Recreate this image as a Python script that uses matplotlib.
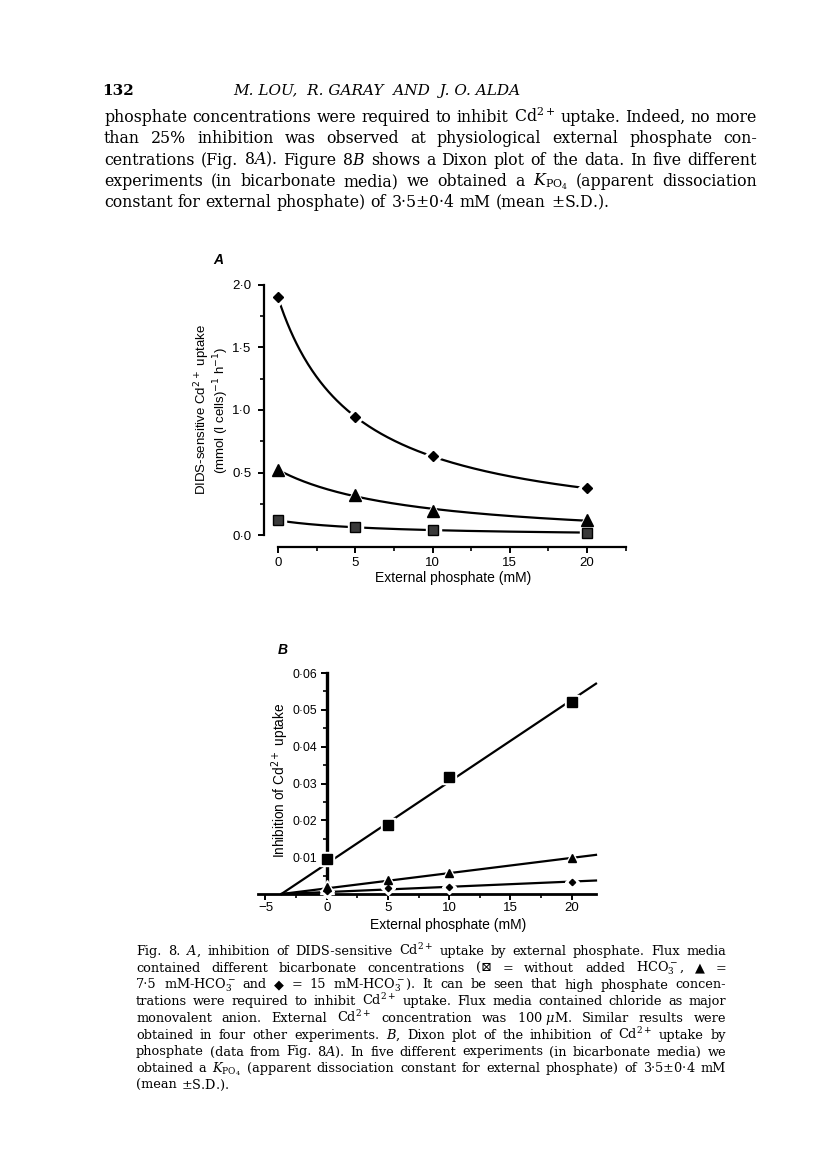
import numpy as np
import matplotlib.pyplot as plt
from matplotlib.ticker import MultipleLocator

W, H = 816, 1163

# external phosphate (mM)
conc = [0, 5, 10, 20]

# panel A: DIDS-sensitive Cd2+ uptake, mmol (l cells)^-1 h^-1
a_no_hco3 = [0.117, 0.061, 0.040, 0.019]
a_hco3_7 = [0.52, 0.32, 0.195, 0.12]
a_hco3_15 = [1.90, 0.944, 0.632, 0.373]

# panel B: Dixon plot
b_no_hco3 = [0.0095, 0.0186, 0.0318, 0.0520]
b_hco3_7 = [0.0020, 0.0038, 0.0056, 0.0097]
b_hco3_15 = [0.0009, 0.0015, 0.0020, 0.0032]
b_cross = -3.7   # where the Dixon lines meet the x axis

a_xticks = [0, 5, 10, 15, 20]
a_yticks = [0.0, 0.5, 1.0, 1.5, 2.0]
a_ylabels = ['0\u00b70', '0\u00b75', '1\u00b70', '1\u00b75', '2\u00b70']
b_xticks = [-5, 0, 5, 10, 15, 20]
b_xlabels = ['\u22125', '0', '5', '10', '15', '20']
b_yticks = [0.01, 0.02, 0.03, 0.04, 0.05, 0.06]
b_ylabels = ['0\u00b701', '0\u00b702', '0\u00b703', '0\u00b704', '0\u00b705', '0\u00b706']

header_num = '132'
header_authors = 'M. LOU,  R. GARAY  AND  J. O. ALDA'
para = [
    'phosphate concentrations were required to inhibit Cd$^{2+}$ uptake. Indeed, no more',
    'than 25% inhibition was observed at physiological external phosphate con-',
    'centrations (Fig. 8$A$). Figure 8$B$ shows a Dixon plot of the data. In five different',
    'experiments (in bicarbonate media) we obtained a $K_{\\mathrm{PO_4}}$ (apparent dissociation',
    'constant for external phosphate) of 3\u00b75$\\pm$0\u00b74 mM (mean $\\pm$S.D.).',
]
caption = [
    'Fig. 8. $A$, inhibition of DIDS-sensitive Cd$^{2+}$ uptake by external phosphate. Flux media',
    'contained different bicarbonate concentrations (\u22a0 = without added HCO$_3^-$, \u25b2 =',
    '7\u00b75 mM-HCO$_3^-$ and \u25c6 = 15 mM-HCO$_3^-$). It can be seen that high phosphate concen-',
    'trations were required to inhibit Cd$^{2+}$ uptake. Flux media contained chloride as major',
    'monovalent anion. External Cd$^{2+}$ concentration was 100\u00a0$\\mu$M. Similar results were',
    'obtained in four other experiments. $B$, Dixon plot of the inhibition of Cd$^{2+}$ uptake by',
    'phosphate (data from Fig. 8$A$). In five different experiments (in bicarbonate media) we',
    'obtained a $K_{\\mathrm{PO_4}}$ (apparent dissociation constant for external phosphate) of 3\u00b75$\\pm$0\u00b74 mM',
    '(mean $\\pm$S.D.).',
]

plt.rcParams['font.family'] = ['Liberation Sans', 'DejaVu Sans']
fig = plt.figure(figsize=(W / 100, H / 100), dpi=100)
renderer = fig.canvas.get_renderer()


def fx(px):
    return px / W


def fy(py):
    return 1 - py / H


def hyperbola_fit(x, y):
    # v = c + V / (1 + x/K), best K on a grid, c and V by least squares
    x = np.asarray(x, float)
    y = np.asarray(y, float)
    best = None
    for K in np.linspace(0.5, 60, 1200):
        A = np.column_stack([np.ones_like(x), 1 / (1 + x / K)])
        coef, *_ = np.linalg.lstsq(A, y, rcond=None)
        err = np.sum((A @ coef - y) ** 2)
        if best is None or err < best[0]:
            best = (err, K, coef)
    _, K, (c, V) = best
    return lambda t: c + V / (1 + t / K)


def draw_marks(ax, x, y, marker, ms, face='black'):
    ax.plot(x, y, ls='none', marker=marker, ms=ms + 4, color='white', zorder=3, clip_on=False)
    ax.plot(x, y, ls='none', marker=marker, ms=ms, mfc=face, mec='black', mew=1,
            zorder=4, clip_on=False)


# ---------- panel A ----------
x0A, x20A = 278, 587
pxA = (x20A - x0A) / 20
y0A, y2A = 535, 285
pyA = (y0A - y2A) / 2.0
leftA, rightA, botA = 264, 626, 547
axA = fig.add_axes([fx(leftA), fy(botA), (rightA - leftA) / W, (botA - y2A) / H])
axA.set_xlim((leftA - x0A) / pxA, (rightA - x0A) / pxA)
axA.set_ylim((y0A - botA) / pyA, 2.0)
for s in ['top', 'right']:
    axA.spines[s].set_visible(False)
axA.spines['left'].set_bounds(0, 2.0)
axA.spines['bottom'].set_bounds(0, 22.5)
for s in ['left', 'bottom']:
    axA.spines[s].set_linewidth(1.6)
axA.set_xticks(a_xticks)
axA.set_yticks(a_yticks, a_ylabels)
axA.xaxis.set_minor_locator(MultipleLocator(2.5))
axA.yaxis.set_minor_locator(MultipleLocator(0.25))
axA.tick_params(which='major', direction='out', length=4, width=1.4, labelsize=9.5, pad=3)
axA.tick_params(which='minor', direction='out', length=3, width=1.2)
axA.tick_params(axis='y', pad=5)

xs = np.linspace(0, 20, 300)
for y, m, ms, face in [(a_hco3_15, 'D', 5.2, 'black'), (a_hco3_7, '^', 8, 'black'),
                       (a_no_hco3, 's', 6.8, '#3a3a3a')]:
    f = hyperbola_fit(conc, y)
    axA.plot(xs, f(xs), color='black', lw=1.6, zorder=2)
    draw_marks(axA, conc, y, m, ms, face)

fig.text(fx(218), fy(260), 'A', fontsize=10, style='italic', weight='bold', ha='center', va='center')
fig.text(fx(202), fy(410), 'DIDS-sensitive Cd$^{2+}$ uptake', fontsize=9.5, rotation=90,
         ha='center', va='center', math_fontfamily='dejavusans')
fig.text(fx(221), fy(410), '(mmol (l cells)$^{-1}$ h$^{-1}$)', fontsize=9.5, rotation=90,
         ha='center', va='center', math_fontfamily='dejavusans')
fig.text(fx(453), fy(578), 'External phosphate (mM)', fontsize=10, ha='center', va='center')

# ---------- panel B ----------
x0B, x20B = 326.7, 571.7
pxB = (x20B - x0B) / 20
yzB, ytopB = 894, 673
leftB, rightB = 258, 596
axB = fig.add_axes([fx(leftB), fy(yzB), (rightB - leftB) / W, (yzB - ytopB) / H])
axB.set_xlim((leftB - x0B) / pxB, (rightB - x0B) / pxB)
axB.set_ylim(0, 0.06)
for s in ['top', 'right']:
    axB.spines[s].set_visible(False)
axB.spines['left'].set_position(('data', 0))
axB.spines['left'].set_linewidth(2.4)
axB.spines['bottom'].set_linewidth(2.0)
axB.set_xticks(b_xticks, b_xlabels)
axB.set_yticks(b_yticks, b_ylabels)
axB.xaxis.set_minor_locator(MultipleLocator(2.5))
axB.yaxis.set_minor_locator(MultipleLocator(0.005))
axB.tick_params(which='major', direction='out', length=4, width=1.4, labelsize=9.5, pad=2)
axB.tick_params(which='minor', direction='out', length=3, width=1.2)
axB.tick_params(axis='y', pad=3, labelsize=8.8)

xe = np.array([b_cross, axB.get_xlim()[1]])
for y, m, ms in [(b_no_hco3, 's', 6.5), (b_hco3_7, '^', 6), (b_hco3_15, 'D', 3.2)]:
    dx = np.asarray(conc) - b_cross
    slope = np.sum(dx * np.asarray(y)) / np.sum(dx ** 2)
    axB.plot(xe, slope * (xe - b_cross), color='black', lw=1.6, zorder=2, clip_on=False)
    draw_marks(axB, conc, y, m, ms)

fig.text(fx(283), fy(650), 'B', fontsize=10, style='italic', weight='bold', ha='center', va='center')
fig.text(fx(280), fy(780), 'Inhibition of Cd$^{2+}$ uptake', fontsize=9.8, rotation=90,
         ha='center', va='center', math_fontfamily='dejavusans')
fig.text(fx(448), fy(925), 'External phosphate (mM)', fontsize=10, ha='center', va='center')

# ---------- page text ----------
serif = dict(family=['DejaVu Serif', 'DejaVu Sans'], math_fontfamily='dejavuserif')


def put_lines(lines, x0, x1, base0, dy, size):
    for i, line in enumerate(lines):
        words = line.split(' ')
        yb = fy(base0 + i * dy)
        arts = [fig.text(0, yb, w, fontsize=size, ha='left', va='baseline', **serif) for w in words]
        widths = [a.get_window_extent(renderer).width for a in arts]
        if i == len(lines) - 1 or len(words) == 1:
            gap = size * 0.32 * 100 / 72
        else:
            gap = (x1 - x0 - sum(widths)) / (len(words) - 1)
        x = x0
        for a, w in zip(arts, widths):
            a.set_x(fx(x))
            x += w + gap


fig.text(fx(102), fy(95), header_num, fontsize=11, weight='bold', ha='left', va='baseline',
         family='DejaVu Serif')
fig.text(fx(233), fy(95), header_authors, fontsize=11, style='italic', ha='left',
         va='baseline', family='DejaVu Serif')
put_lines(para, 104, 757, 122, 21.3, 11.3)
put_lines(caption, 136, 726, 955, 16.75, 9.3)

fig.savefig('out.png', dpi=100)
